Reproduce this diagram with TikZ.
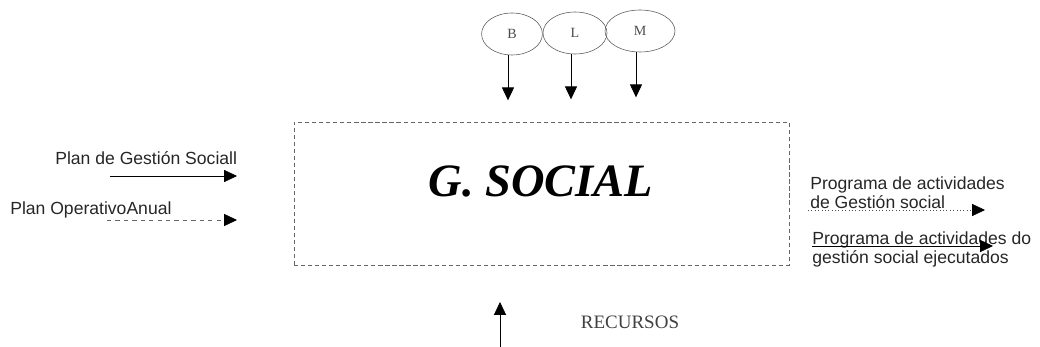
\documentclass[tikz,border=0pt]{standalone}
\usepackage{fontspec}
\setmainfont{Liberation Serif}
\setsansfont{Liberation Sans}
\usetikzlibrary{arrows.meta,shapes.geometric}

\tikzset{
	flow/.style={-{Triangle[length=0.32cm,width=0.3cm,color=black]}, thin},
	inlabel/.style={font=\sffamily\fontsize{12.5}{13.5}\selectfont, inner sep=0pt, align=left, anchor=west, text=black!85},
	level/.style={draw=black!65, ellipse, minimum height=1.05cm, inner sep=0pt, font=\fontsize{10}{10}\selectfont, text=black!70},
	procbox/.style={draw=black!60, densely dashed, minimum width=12.375cm, minimum height=3.575cm, inner sep=0pt}
}

\begin{document}
\begin{tikzpicture}[x=0.025cm, y=-0.025cm]
	\useasboundingbox (0,0) rectangle (1040,347);
	% central process
	\node[procbox] (gsocial) at (541.5,193.5) {};
	\node[font=\bfseries\itshape\fontsize{33}{33}\selectfont] (gtitle) at (541,181) {G. SOCIAL};
	% controls on top
	\node[level, minimum width=1.52cm] (B) at (512,34) {B};
	\node[level, minimum width=1.6cm] (L) at (575,33) {L};
	\node[level, minimum width=1.75cm] (M) at (640,31) {M};
	\foreach \c in {B,L,M} {
		\path (\c.south) ++(-4,0) coordinate (\c top) ++(0,45) coordinate (\c in);
		\draw[flow] (\c top) -- (\c in);
	}
	% inputs
	\node[inlabel] (pgs) at (55,158) {Plan de Gestión Sociall};
	\node[inlabel] (poa) at (10,210) {Plan OperativoAnual};
	\coordinate (pgs from) at (110,176);
	\coordinate (pgs to) at (237,176);
	\coordinate (poa from) at (107,220);
	\coordinate (poa to) at (237,220);
	\draw[flow] (pgs from) -- (pgs to);
	\draw[flow, dashed, draw=black!60] (poa from) -- (poa to);
	% outputs
	\node[inlabel] (pag) at (810,193) {Programa de actividades\\de Gestión social};
	\node[inlabel] (pae) at (812,249) {Programa de actividades do\\gestión social ejecutados};
	\coordinate (pag from) at (808,210);
	\coordinate (pag to) at (985,210);
	\coordinate (pae from) at (812,246);
	\coordinate (pae to) at (993,246);
	\draw[flow, dotted, draw=black!70] (pag from) -- (pag to);
	\draw[flow] (pae from) -- (pae to);
	% resources
	\node[font=\fontsize{13.5}{13.5}\selectfont, text=black!75] (rec) at (630,322) {RECURSOS};
	\coordinate (rec from) at (500,347);
	\coordinate (rec to) at (500,302);
	\draw[flow] (rec from) -- (rec to);
\end{tikzpicture}
\end{document}
